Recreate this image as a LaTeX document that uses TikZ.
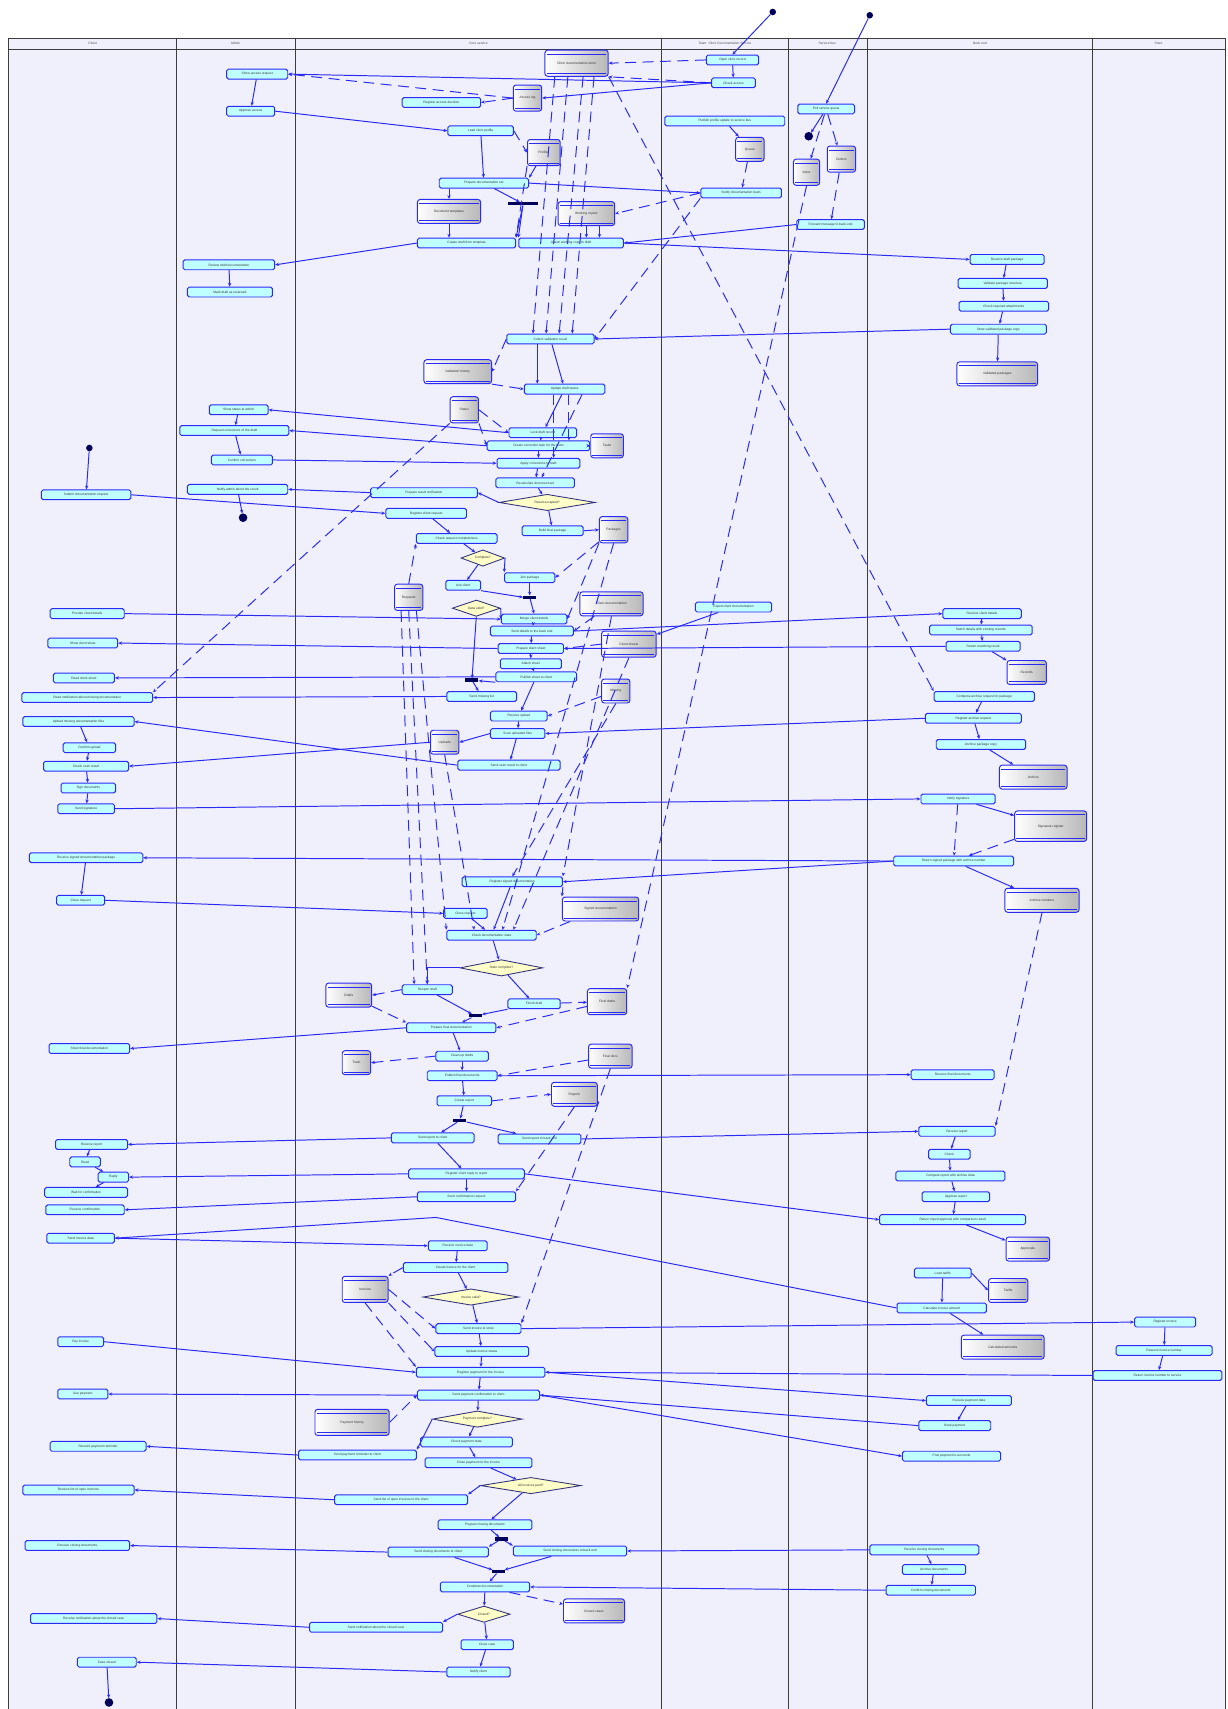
\documentclass[tikz,border=0pt]{standalone}
\usepackage{fontspec}
\setmainfont{Liberation Sans}
\usepackage{tikz}
\usepackage{xcolor}
\usetikzlibrary{arrows.meta,shapes.geometric}
\definecolor{lanebg}{HTML}{F0F0FC}
\definecolor{laneline}{HTML}{3C3C3C}
\definecolor{flowblue}{HTML}{2A2AF5}
\definecolor{actfill}{HTML}{BFFFFF}
\definecolor{decfill}{HTML}{FFFFC8}
\definecolor{navy}{HTML}{00005A}
\newcommand{\tinyfont}{\fontsize{3}{3.6}\selectfont}

\tikzset{
  lane/.style={draw=laneline, line width=0.9pt},
  act/.style={rectangle, rounded corners=1.5pt, draw=flowblue, line width=0.9pt, fill=actfill,
    minimum width=#1, minimum height=9pt, inner sep=0pt, font=\tinyfont, text=black!80},
  act/.default=50,
  lidline/.style={draw=flowblue, line width=0.6pt},
  store/.style={rectangle, rounded corners=2.5pt, draw=flowblue, line width=0.9pt,
    left color=white, right color=black!28, minimum width=#1, minimum height=22pt,
    inner sep=0pt, font=\tinyfont, text=black!80,
    append after command={([xshift=2pt,yshift=-4pt]\tikzlastnode.north west) edge[lidline] ([xshift=-2pt,yshift=-4pt]\tikzlastnode.north east)
      ([xshift=2pt,yshift=3pt]\tikzlastnode.south west) edge[lidline] ([xshift=-2pt,yshift=3pt]\tikzlastnode.south east)}},
  store/.default=30,
  diam/.style={diamond, aspect=5, draw=navy!80, line width=0.8pt, fill=decfill,
    minimum width=#1, minimum height=15pt, inner sep=0pt, font=\tinyfont, text=black!80},
  bar/.style={rectangle, fill=navy, minimum width=#1, minimum height=3pt, inner sep=0pt},
  startdot/.style={circle, fill=navy, minimum size=6pt, inner sep=0pt},
  enddot/.style={circle, fill=navy, draw=navy, line width=0.8pt, minimum size=7pt, inner sep=0pt},
  flow/.style={draw=flowblue, line width=0.9pt, -{Stealth[length=3.5pt,width=3pt]}},
  obj/.style={flow, dash pattern=on 10pt off 6pt},
  head/.style={font=\tinyfont, text=black!70}
}

\begin{document}
\begin{tikzpicture}[x=1pt,y=-1pt]
  \useasboundingbox (0,0) rectangle (1126,1568);
  \fill[white] (0,0) rectangle (1126,1568);
  \fill[lanebg] (8,35) rectangle (1124,1568);
  \draw[lane] (8,1568) -- (8,35) -- (1124,35) -- (1124,1568);
  \draw[lane] (8,45) -- (1124,45);
  \foreach \x in {162,271,607,723,796,1002}
    \draw[lane] (\x,35) -- (\x,1568);
  \node[head] at (85,40) {Client};
  \node[head] at (216,40) {Admin};
  \node[head] at (439,40) {Core service};
  \node[head] at (665,40) {Team: Clinic Documentation Service};
  \node[head] at (759,40) {Service bus};
  \node[head] at (899,40) {Back end};
  \node[head] at (1063,40) {Store};

  % initial and final states
  \node[startdot] (start1) at (709,11) {};
  \node[startdot] (start2) at (798,14) {};
  \node[startdot] (start3) at (82,411) {};
  \node[enddot] (end1) at (742,125) {};
  \node[enddot] (end2) at (223,475) {};
  \node[enddot] (end3) at (100,1562) {};

  % actions and stores
  \node[act=48] (a1) at (672,55) {Open clinic record};
  \node[act=40] (a2) at (673,76) {Check access};
  \node[act=52] (b1) at (758,100) {Poll service queue};
  \node[store=58, minimum height=24pt] (s1) at (529,58) {Clinic documentation store};
  \node[act=56] (a3) at (236,68) {Show access request};
  \node[act=44] (a4) at (230,102) {Approve access};
  \node[act=72] (a5) at (405,94) {Register access decision};
  \node[store=26, minimum height=24pt] (s2) at (484,90) {Access log};
  \node[act=60] (a6) at (441,120) {Load clinic profile};
  \node[store=30, minimum height=24pt] (s3) at (499,140) {Profiles};
  \node[act=110] (a7) at (665,111) {Publish profile update to service bus};
  \node[store=26] (s4) at (688,137) {Queue};
  \node[act=82] (a8) at (444,168) {Prepare documentation set};
  \node[bar=28] (bar1) at (480,187) {};
  \node[store=58] (s5) at (412,194) {Document templates};
  \node[store=52] (s6) at (538,196) {Working copies};
  \node[act=74] (a9) at (680,177) {Notify documentation team};
  \node[act=90] (a10) at (428,223) {Create draft from template};
  \node[act=96] (a11) at (524,223) {Attach working copy to draft};
  \node[act=62] (b2) at (762,206) {Forward message to back end};
  \node[store=24, minimum height=24pt] (s7) at (740,158) {Inbox};
  \node[store=26, minimum height=24pt] (s8) at (772,146) {Outbox};
  \node[act=84] (a13) at (210,243) {Review draft documentation};
  \node[act=78] (a14) at (211,268) {Mark draft as reviewed};
  \node[act=68] (a15) at (924,238) {Receive draft package};
  \node[act=82] (a16) at (920,260) {Validate package structure};
  \node[act=82] (a17) at (921,281) {Check required attachments};
  \node[act=88] (a18) at (916,302) {Store validated package copy};
  \node[store=74] (s9) at (915,343) {Validated packages};
  \node[act=80] (a19) at (505,311) {Collect validation result};
  \node[store=62] (s10) at (420,341) {Validation history};
  \node[act=74] (a20) at (518,357) {Update draft status};
  \node[act=54] (a21) at (219,376) {Show status to admin};
  \node[act=100] (a22) at (215,395) {Request corrections of the draft};
  \node[store=26, minimum height=24pt] (s11) at (426,376) {Status};
  \node[act=62] (a23) at (498,397) {Lock draft record};
  \node[act=94] (a24) at (494,409) {Create correction task for the team};
  \node[store=30] (s12) at (557,409) {Tasks};
  \node[act=56] (a26) at (222,422) {Confirm corrections};
  \node[act=76] (a25) at (494,425) {Apply corrections to draft};
  \node[act=72] (a27) at (491,443) {Recalculate document set};
  \node[act=92] (a28) at (218,449) {Notify admin about the result};
  \node[act=98] (a29) at (389,452) {Prepare result notification};
  \node[diam=88] (d1) at (502,461) {Result accepted?};
  \node[act=82] (a30) at (79,454) {Submit documentation request};
  \node[act=74] (a31) at (391,471) {Register client request};
  \node[act=56] (a32) at (507,487) {Build final package};
  \node[store=26, minimum height=24pt] (s13) at (563,486) {Packages};
  \node[act=74] (a33) at (419,494) {Check request completeness};
  \node[diam=40] (d2) at (443,512) {Complete?};
  \node[act=46] (a34) at (486,530) {Join package};
  \node[act=32] (a35) at (425,537) {Ask client};
  \node[bar=12] (bar7) at (486,548) {};
  \node[store=26, minimum height=24pt] (s14) at (375,548) {Requests};
  \node[diam=44] (d3) at (437,558) {Data valid?};
  \node[store=58] (s15) at (561,554) {Client documentation};
  \node[act=70] (a36) at (673,557) {Export client documentation};
  \node[act=68] (a37) at (80,563) {Provide client details};
  \node[act=60] (a38) at (490,568) {Merge client details};
  \node[act=76] (a39) at (488,579) {Send details to the back end};
  \node[act=60] (a40) at (487,595) {Prepare client sheet};
  \node[store=50, minimum height=24pt] (s16) at (577,591) {Client sheets};
  \node[act=72] (a41) at (901,563) {Receive client details};
  \node[act=94] (a42) at (900,578) {Match details with existing records};
  \node[act=68] (a43) at (902,593) {Return matching result};
  \node[store=36] (s17) at (942,617) {Records};
  \node[act=64] (a44) at (76,590) {Show client sheet};
  \node[act=56] (a45) at (487,609) {Attach sheet};
  \node[act=74] (a46) at (492,621) {Publish sheet to client};
  \node[act=56] (a47) at (77,622) {Read client sheet};
  \node[bar=12] (bar5) at (433,624) {};
  \node[act=120] (a48) at (80,640) {Read notification about missing documentation};
  \node[act=64] (a49) at (442,639) {Send missing list};
  \node[store=26] (s18) at (565,634) {Missing};
  \node[act=92] (a50) at (903,639) {Compose archive request for package};
  \node[act=102] (a51) at (72,662) {Upload missing documentation files};
  \node[act=52] (a52) at (476,657) {Receive upload};
  \node[act=50] (a53) at (475,673) {Scan uploaded files};
  \node[store=26] (s19) at (408,681) {Uploads};
  \node[act=88] (a54) at (893,659) {Register archive request};
  \node[act=48] (a55) at (82,686) {Confirm upload};
  \node[act=78] (a56) at (79,703) {Check scan result};
  \node[act=94] (a57) at (467,702) {Send scan result to client};
  \node[act=82] (a58) at (900,683) {Archive package copy};
  \node[store=62] (s20) at (948,713) {Archive};
  \node[act=50] (a59) at (81,723) {Sign documents};
  \node[act=52] (a60) at (79,742) {Send signature};
  \node[act=68] (a61) at (879,733) {Verify signature};
  \node[store=66, minimum height=28pt] (s21) at (964,758) {Signature register};
  \node[act=104] (a62) at (79,787) {Receive signed documentation package};
  \node[act=110] (a63) at (875,790) {Return signed package with archive number};
  \node[act=44] (a64) at (74,826) {Close request};
  \node[act=92] (a65) at (470,809) {Register signed documentation};
  \node[store=70] (s22) at (551,834) {Signed documentation};
  \node[store=68] (s23) at (956,826) {Archive numbers};
  \node[act=40] (a66) at (427,838) {Close request};
  \node[act=82] (a67) at (451,858) {Check documentation state};
  \node[diam=76] (d4) at (460,888) {State complete?};
  \node[act=46] (a68) at (392,908) {Reopen draft};
  \node[store=42] (s24) at (320,913) {Drafts};
  \node[act=48] (a69) at (490,921) {Finish draft};
  \node[store=36, minimum height=24pt] (s25) at (557,919) {Final drafts};
  \node[bar=12] (bar6) at (436,932) {};
  \node[act=82] (a70) at (414,943) {Prepare final documentation};
  \node[act=74] (a71) at (82,962) {Show final documentation};
  \node[act=48] (a72) at (424,969) {Clean up drafts};
  \node[store=26] (s26) at (327,975) {Trash};
  \node[store=40] (s27) at (560,969) {Final docs};
  \node[act=64] (a73) at (424,987) {Publish final documents};
  \node[act=76] (a74) at (874,986) {Receive final documents};
  \node[act=50] (a75) at (426,1010) {Create report};
  \node[store=42] (s28) at (527,1004) {Reports};
  \node[bar=12] (bar2) at (422,1028) {};
  \node[act=76] (a76) at (397,1044) {Send report to client};
  \node[act=76] (a77) at (495,1045) {Send report to back end};
  \node[act=70] (a78) at (878,1038) {Receive report};
  \node[act=66] (a79) at (84,1050) {Receive report};
  \node[act=28] (a80) at (78,1066) {Read};
  \node[act=38] (a81) at (871,1059) {Check};
  \node[act=28] (a82) at (104,1080) {Reply};
  \node[act=106] (a83) at (428,1077) {Register client reply to report};
  \node[act=100] (a84) at (872,1079) {Compare report with archive data};
  \node[act=76] (a85) at (79,1094) {Wait for confirmation};
  \node[act=90] (a86) at (428,1098) {Send confirmation request};
  \node[act=62] (a87) at (877,1098) {Approve report};
  \node[act=72] (a88) at (78,1110) {Receive confirmation};
  \node[act=134] (a89) at (874,1119) {Return report approval with comparison result};
  \node[store=40] (s29) at (943,1146) {Approvals};
  \node[act=62] (a90) at (74,1136) {Send invoice data};
  \node[act=54] (a91) at (420,1143) {Receive invoice data};
  \node[act=96] (a92) at (418,1163) {Create invoice for the client};
  \node[store=42, minimum height=24pt] (s30) at (335,1183) {Invoices};
  \node[diam=88] (d5) at (432,1190) {Invoice valid?};
  \node[act=52] (a93) at (865,1168) {Load tariffs};
  \node[store=36] (s31) at (925,1184) {Tariffs};
  \node[act=82] (a94) at (864,1200) {Calculate invoice amount};
  \node[store=76] (s32) at (920,1236) {Calculated amounts};
  \node[act=56] (a95) at (1069,1213) {Register invoice};
  \node[act=88] (a96) at (1068,1239) {Reserve invoice number};
  \node[act=118] (a97) at (1062,1262) {Return invoice number to service};
  \node[act=42] (a98) at (74,1231) {Pay invoice};
  \node[act=78] (a99) at (439,1219) {Send invoice to store};
  \node[act=86] (a100) at (442,1240) {Update invoice status};
  \node[act=118] (a101) at (441,1259) {Register payment for the invoice};
  \node[act=112] (a102) at (439,1280) {Send payment confirmation to client};
  \node[act=46] (a103) at (76,1279) {See payment};
  \node[act=78] (a104) at (889,1285) {Receive payment data};
  \node[store=68, minimum height=24pt] (s33) at (323,1305) {Payment history};
  \node[diam=82] (d6) at (438,1302) {Payment complete?};
  \node[act=66] (a105) at (876,1308) {Book payment};
  \node[act=88] (a106) at (90,1327) {Receive payment reminder};
  \node[act=84] (a107) at (428,1323) {Check payment state};
  \node[act=108] (a108) at (328,1335) {Send payment reminder to client};
  \node[act=98] (a109) at (439,1342) {Close payment for the invoice};
  \node[act=90] (a110) at (873,1336) {Post payment to accounts};
  \node[diam=92] (d7) at (487,1363) {All invoices paid?};
  \node[act=102] (a111) at (72,1367) {Receive list of open invoices};
  \node[act=122] (a112) at (368,1376) {Send list of open invoices to the client};
  \node[act=86] (a113) at (445,1399) {Prepare closing documents};
  \node[bar=12] (bar3) at (460,1412) {};
  \node[act=96] (a114) at (71,1418) {Receive closing documents};
  \node[act=92] (a115) at (402,1424) {Send closing documents to client};
  \node[act=104] (a116) at (523,1423) {Send closing documents to back end};
  \node[act=100] (a117) at (848,1422) {Receive closing documents};
  \node[act=58] (a118) at (857,1440) {Archive documents};
  \node[bar=12] (bar4) at (457,1442) {};
  \node[act=82] (a119) at (854,1459) {Confirm closing documents};
  \node[act=82] (a120) at (445,1456) {Complete documentation};
  \node[store=56] (s34) at (545,1478) {Closed cases};
  \node[diam=48] (d8) at (444,1481) {Closed?};
  \node[act=116] (a121) at (86,1485) {Receive notification about the closed case};
  \node[act=122] (a122) at (345,1493) {Send notification about the closed case};
  \node[act=48] (a123) at (447,1509) {Close case};
  \node[act=54] (a124) at (98,1525) {Case closed};
  \node[act=58] (a125) at (439,1534) {Notify client};
  \coordinate (bend1) at (400,1117);

  % control flow
  \draw[flow] (start1) -- (a1.north);
  \draw[flow] (a1) -- (a2);
  \draw[flow] (a2.west) -- (a3.east);
  \draw[flow] (a2.west) -- (s2.east);
  \draw[flow] (a3) -- (a4);
  \draw[flow] (a4.east) -- (a6.west);
  \draw[flow] (a6) -- (a8);
  \draw[flow] (s5.north |- a8.south) -- (s5.north);
  \draw[flow] (a8) -- (bar1);
  \draw[flow] (bar1) -- (a10.north east);
  \draw[flow] (bar1) -- (a11.north west);
  \draw[flow] (s5.south) -- (s5.south |- a10.north);
  \draw[flow] (s6.south) -- (s6.south |- a11.north);
  \draw[flow] ([xshift=12pt]s6.south) -- ([xshift=12pt]s6.south |- a11.north);
  \draw[flow] (a8.east) -- (a9.west);
  \draw[flow] (a7) -- (s4);
  \draw[flow] (start2) -- (b1.north);
  \draw[flow] (b1) -- (end1);
  \draw[flow] (b2.west) -- (a11.east);
  \draw[flow] (a10.west) -- (a13.east);
  \draw[flow] (a13) -- (a14);
  \draw[flow] (a11.east) -- (a15.west);
  \draw[flow] (a15) -- (a16);
  \draw[flow] (a16) -- (a17);
  \draw[flow] (a17) -- (a18);
  \draw[flow] (a18) -- (s9);
  \draw[flow] (a18.west) -- (a19.east);
  \draw[flow] (a19) -- (a20);
  \draw[flow] ([xshift=-12pt]a19.south) -- ([xshift=-12pt]a19.south |- a20.north);
  \draw[flow] (a20) -- (a23);
  \draw[flow] (a23.west) -- (a21.east);
  \draw[flow] (a24.west) -- (a22.east);
  \draw[flow] (a21) -- (a22);
  \draw[flow] (a22) -- (a26);
  \draw[flow] (a26.east) -- (a25.west);
  \draw[flow] (a23) -- (a24);
  \draw[flow] (a24) -- (a25);
  \draw[flow] (a25) -- (a27);
  \draw[flow] (a27) -- (d1);
  \draw[flow] (d1.west) -- (a29.east);
  \draw[flow] (a29.west) -- (a28.east);
  \draw[flow] (a28) -- (end2);
  \draw[flow] (start3) -- (a30);
  \draw[flow] (a30.east) -- (a31.west);
  \draw[flow] (a31) -- (a33);
  \draw[flow] (d1) -- (a32);
  \draw[flow] (a32.east) -- (s13.west);
  \draw[flow] (a33) -- (d2);
  \draw[flow] (d2) -- (a35);
  \draw[flow] (d2.east) -- (a34.north west);
  \draw[flow] (a34) -- (bar7);
  \draw[flow] (a35.south east) -- (bar7.west);
  \draw[flow] (bar7) -- (a38.north);
  \draw[flow] (d3.east) -- (a38.west);
  \draw[flow] (d3.south) -- (bar5);
  \draw[flow] (a37.east) -- (a38.west);
  \draw[flow] (a38) -- (a39);
  \draw[flow] (a39) -- (a40);
  \draw[flow] (a40) -- (a45);
  \draw[flow] (a45) -- (a46);
  \draw[flow] (a36) -- (s16);
  \draw[flow] (a39.east) -- (a41.west);
  \draw[flow] (a41) -- (a42);
  \draw[flow] (a42) -- (a43);
  \draw[flow] (a43) -- (s17);
  \draw[flow] (a43.west) -- (a40.east);
  \draw[flow] (a40.west) -- (a44.east);
  \draw[flow] (a46.west) -- (a47.east);
  \draw[flow] (a49.west) -- (a48.east);
  \draw[flow] (a46.south west) -- (bar5);
  \draw[flow] (bar5) -- (a49);
  \draw[flow] (a46) -- (a52);
  \draw[flow] (a52) -- (a53);
  \draw[flow] (a53.west) -- (s19.east);
  \draw[flow] (a50) -- (a54);
  \draw[flow] (a54.west) -- (a53.east);
  \draw[flow] (a54) -- (a58);
  \draw[flow] (a58) -- (s20);
  \draw[flow] (a51) -- (a55);
  \draw[flow] (a55) -- (a56);
  \draw[flow] (a56) -- (a59);
  \draw[flow] (a59) -- (a60);
  \draw[flow] (a57.west) -- (a51.east);
  \draw[flow] (s19.west) -- (a56.east);
  \draw[flow] (a53) -- (a57);
  \draw[flow] (a60.east) -- (a61.west);
  \draw[flow] (a61) -- (s21);
  \draw[flow] (a63.west) -- (a62.east);
  \draw[flow] (a63.west) -- (a65.east);
  \draw[flow] (a63) -- (s23);
  \draw[flow] (a62) -- (a64);
  \draw[flow] (a64.east) -- (a66.west);
  \draw[flow] (a66) -- (a67);
  \draw[flow] (a65) -- (a67);
  \draw[flow] (a65.south east) -- (s22.north west);
  \draw[flow] (a67) -- (d4);
  \draw[flow] (d4.west) -| (a68.north);
  \draw[flow] (d4) -- (a69);
  \draw[flow] (a68) -- (bar6);
  \draw[flow] (a69) -- (bar6);
  \draw[flow] (bar6) -- (a70);
  \draw[flow] (a70.west) -- (a71.east);
  \draw[flow] (a70) -- (a72);
  \draw[flow] (a72) -- (a73);
  \draw[flow] (a73) -- (a75);
  \draw[flow] (a73.east) -- (a74.west);
  \draw[flow] (a75) -- (bar2);
  \draw[flow] (bar2) -- (a76);
  \draw[flow] (bar2) -- (a77);
  \draw[flow] (a76.west) -- (a79.east);
  \draw[flow] (a77.east) -- (a78.west);
  \draw[flow] (a79) -- (a80);
  \draw[flow] (a80) -- (a82);
  \draw[flow] (a82) -- (a85);
  \draw[flow] (a83.west) -- (a82.east);
  \draw[flow] (a78) -- (a81);
  \draw[flow] (a81) -- (a84);
  \draw[flow] (a84) -- (a87);
  \draw[flow] (a87) -- (a89);
  \draw[flow] (a89) -- (s29);
  \draw[flow] (a76) -- (a83);
  \draw[flow] (a83) -- (a86);
  \draw[flow] (a83.east) -- (a89.west);
  \draw[flow] (a86.west) -- (a88.east);
  \draw[flow] (a90.east) -- (a91.west);
  \draw[flow] (a94.west) -- (bend1) -- (a90.east);
  \draw[flow] (a91) -- (a92);
  \draw[flow] (a92) -- (d5);
  \draw[flow] (d5) -- (a99);
  \draw[flow] (a99) -- (a100);
  \draw[flow] (a100) -- (a101);
  \draw[flow] (a93) -- (a94);
  \draw[flow] (a93.east) -- (s31.west);
  \draw[flow] (a94) -- (s32);
  \draw[flow] (a99.east) -- (a95.west);
  \draw[flow] (a95) -- (a96);
  \draw[flow] (a96) -- (a97);
  \draw[flow] (a97.west) -- (a101.east);
  \draw[flow] (a98.east) -- (a101.west);
  \draw[flow] (a101) -- (a102);
  \draw[flow] (a102.west) -- (a103.east);
  \draw[flow] (a101.east) -- (a104.west);
  \draw[flow] (a104) -- (a105);
  \draw[flow] (a102.east) -- (a110.west);
  \draw[flow] (a105.west) -- (a102.east);
  \draw[flow] (a102) -- (d6);
  \draw[flow] (d6) -- (a107);
  \draw[flow] (a107) -- (a109);
  \draw[flow] (d6.west) -- (a108.north east);
  \draw[flow] (a108.west) -- (a106.east);
  \draw[flow] (a109) -- (d7);
  \draw[flow] (d7.west) -- (a112.north east);
  \draw[flow] (a112.west) -- (a111.east);
  \draw[flow] (d7) -- (a113);
  \draw[flow] (a113) -- (bar3);
  \draw[flow] (bar3) -- (a115.north east);
  \draw[flow] (bar3) -- (a116.north west);
  \draw[flow] (a115) -- (bar4);
  \draw[flow] (a116) -- (bar4);
  \draw[flow] (bar4) -- (a120);
  \draw[flow] (a115.west) -- (a114.east);
  \draw[flow] (a117.west) -- (a116.east);
  \draw[flow] (a117) -- (a118);
  \draw[flow] (a118) -- (a119);
  \draw[flow] (a119.west) -- (a120.east);
  \draw[flow] (a120) -- (d8);
  \draw[flow] (d8.west) -- (a122.north east);
  \draw[flow] (a122.west) -- (a121.east);
  \draw[flow] (d8) -- (a123);
  \draw[flow] (a123) -- (a125);
  \draw[flow] (a125.west) -- (a124.east);
  \draw[flow] (a124) -- (end3);

  % object flow
  \draw[obj] (a1.west) -- (s1.east);
  \draw[obj] (a2.west) -- (s1.south east);
  \draw[obj] (s2.west) -- (a3.east);
  \draw[obj] (s2.west) -- (a5.east);
  \draw[obj] (a6.east) -- (s3.west);
  \draw[obj] (s3) -- (a8.north east);
  \draw[obj] (s3.south west) -- (a10.north east);
  \draw[obj] (a9.west) -- (s6.east);
  \draw[obj] (s4) -- (a9);
  \draw[obj] (a9.south west) -- (a19.east);
  \draw[obj] (b1) -- (s7);
  \draw[obj] (b1) -- (s8);
  \draw[obj] (s8) -- (b2);
  \draw[obj] ([xshift=-20pt]s1.south) -- ([xshift=-16pt]a19.north);
  \draw[obj] ([xshift=-8pt]s1.south) -- ([xshift=-4pt]a19.north);
  \draw[obj] ([xshift=6pt]s1.south) -- ([xshift=8pt]a19.north);
  \draw[obj] ([xshift=16pt]s1.south) -- ([xshift=20pt]a19.north);
  \draw[obj] ([xshift=-10pt]a20.south) -- ([xshift=-10pt]a20.south |- a25.north);
  \draw[obj] ([xshift=4pt]a20.south) -- ([xshift=4pt]a20.south |- a24.north);
  \draw[obj] ([xshift=16pt]a20.south) -- ([xshift=6pt]a27.north);
  \draw[obj] (s1.south east) -- (a50.north west);
  \draw[obj] (s7.south) -- (s25.north east);
  \draw[obj] (a19.west) -- (s10.east);
  \draw[obj] (s10.south east) -- (a20.west);
  \draw[obj] (s11.east) -- (a23.west);
  \draw[obj] (s11.south east) -- (a24.west);
  \draw[obj] (a24.east) -- (s12.west);
  \draw[obj] (s11.south west) -- (a48.north east);
  \draw[obj] (s14.north) -- (a33.south west);
  \draw[obj] (s13) -- (a34.east);
  \draw[obj] (s13.south west) -- (a38.east);
  \draw[obj] (s15) -- (a39.east);
  \draw[obj] (s16.west) -- (a40.east);
  \draw[obj] (s18) -- (a52.east);
  \draw[obj] (a61) -- (a63);
  \draw[obj] (s21) -- (a63);
  \draw[obj] (s22) -- (a67.east);
  \draw[obj] (s14.south) -- (a68.north);
  \draw[obj] ([xshift=-7pt]s14.south) -- ([xshift=-12pt]a68.north);
  \draw[obj] ([xshift=7pt]s14.south) -- (a67.north west);
  \draw[obj] (s19.south) -- ([xshift=-16pt]a67.north);
  \draw[obj] (s13.south) -- ([xshift=10pt]a67.north);
  \draw[obj] (s15.south) -- (a65.north east);
  \draw[obj] (s16.south) -- ([xshift=20pt]a67.north);
  \draw[obj] (s18.south) -- (a65.north);
  \draw[obj] (a68.west) -- (s24.east);
  \draw[obj] (a69) -- (s25);
  \draw[obj] (s24) -- (a70.north west);
  \draw[obj] (a72.west) -- (s26.east);
  \draw[obj] (s27) -- (a73.east);
  \draw[obj] (s25) -- (a70.east);
  \draw[obj] (a75.east) -- (s28.west);
  \draw[obj] (s23.south) -- (a78.north east);
  \draw[obj] (s28.south) -- (a86.north east);
  \draw[obj] (s27.south) -- (a99.north east);
  \draw[obj] (a92.west) -- (s30.north east);
  \draw[obj] (s30.east) -- (a99.west);
  \draw[obj] (s30.south east) -- (a100.west);
  \draw[obj] (s30.south) -- (a101.north west);
  \draw[obj] (s33.east) -- (a102.west);
  \draw[obj] (a120) -- (s34);
\end{tikzpicture}
\end{document}
